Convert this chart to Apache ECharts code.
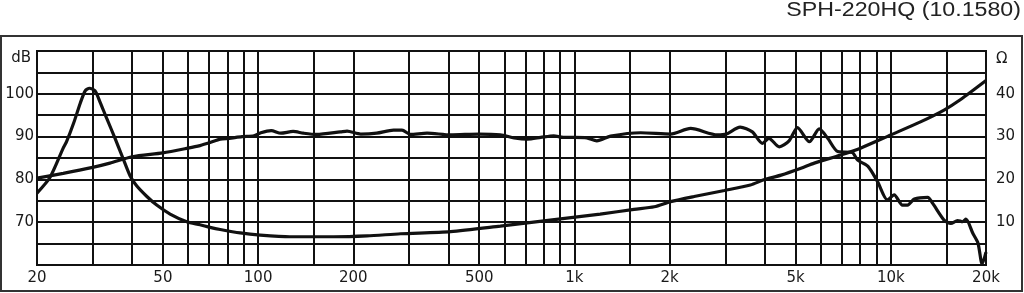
<!DOCTYPE html>
<html><head><meta charset="utf-8">
<script src="https://cdn.jsdelivr.net/npm/echarts@6/dist/echarts.min.js"></script>
<style>html,body{margin:0;padding:0;background:#fff}#c{width:1024px;height:293px}</style>
</head><body><div id="c"></div>
<script>
const titleText = 'SPH-220HQ (10.1580)';
// SPL curve (dB, left axis)
const splFreq = [20,24.2,30,34,40,50,60,65.5,70.5,75.9,81,89,97,102,110,118,129,139,153,182,191,211,237,268,285,303,342,406,500,583,645,710,782,860,922,1000,1094,1177,1300,1620,2013,2330,2830,3020,3340,3650,3930,4120,4440,4770,5070,5530,5940,6320,6800,7550,7860,8460,9080,9760,10250,10890,11300,11870,13080,13570,14740,15480,16260,16870,17290,18170,18870,19450,20000];
const splDb   = [80.3,81.4,82.8,83.8,85.3,86.2,87.3,87.9,88.6,89.4,89.6,90.0,90.2,90.9,91.4,90.8,91.2,90.8,90.5,91.1,91.3,90.6,90.8,91.5,91.5,90.5,90.8,90.4,90.6,90.4,89.7,89.4,89.8,90.2,89.8,89.8,89.7,89.0,90.1,90.9,90.6,91.9,90.4,90.6,92.2,91.1,88.4,89.6,87.6,89.0,92.1,88.8,91.8,89.6,86.5,86.3,84.5,83.1,79.5,75.2,76.4,74.0,74.0,75.4,75.8,74.4,70.5,69.7,70.4,70.1,70.7,67.4,65.1,60.2,63.0];
// Impedance curve (ohm, right axis)
const impFreq = [20,22,24.2,24.8,26.1,27.4,28.4,29.3,30.5,31.6,33.2,35.3,37.5,39.4,41.3,44.5,47.8,52.7,59.5,65.5,70.5,75.9,87.8,101.6,126,173,221,282,406,583,838,1206,1542,1788,2013,2390,2980,3600,3970,4500,5200,5730,6940,8020,10000,12460,14740,16580,20000];
const impOhm  = [16.8,20.5,27.3,28.8,33.1,37.8,40.7,41.3,40.7,38.2,34.3,29.6,24.7,20.8,18.5,16.0,14.0,11.9,10.1,9.4,8.8,8.3,7.5,7.0,6.6,6.6,6.8,7.3,7.8,9.1,10.5,11.9,13.0,13.6,14.8,16.0,17.4,18.7,19.9,21.0,22.6,23.8,25.7,27.3,30.4,33.5,36.2,38.6,43.1];
// axis ticks
const gridFreqs = [20,30,40,50,60,70,80,90,100,150,200,300,400,500,600,700,800,900,1000,1500,2000,3000,4000,5000,6000,7000,8000,9000,10000,15000,20000];
const freqLabels = [20,50,100,200,500,1000,2000,5000,10000,20000];
const dbLabels = [70,80,90,100];
const ohmLabels = [10,20,30,40];
const dbUnit = 'dB', ohmUnit = 'Ω';

const INK = '#111';
const TXT = '#1a1a1a';
const FONT = 'DejaVu Sans';
const fmtF = f => f >= 1000 ? (f/1000) + 'k' : String(f);

const chart = echarts.init(document.getElementById('c'), null, {renderer:'canvas'});
chart.setOption({
  animation: false,
  backgroundColor: '#fff',
  grid: {left: 37, right: 38, top: 51, bottom: 28, show: true, borderColor: INK, borderWidth: 2, backgroundColor: 'rgba(0,0,0,0)'},
  xAxis: {
    type: 'log', logBase: 10, min: 20, max: 20000,
    axisLine: {show: false}, axisTick: {show: false}, axisLabel: {show: false},
    splitLine: {show: false}
  },
  yAxis: [
    {type: 'value', min: 60, max: 110, interval: 5, position: 'left',
     axisLine: {show: false}, axisTick: {show: false},
     splitLine: {show: true, lineStyle: {color: INK, width: 2}},
     axisLabel: {margin: 3, fontSize: 15, fontFamily: FONT, color: TXT,
       formatter: v => dbLabels.includes(v) ? String(v) : ''}},
    {type: 'value', min: 0, max: 50, interval: 5, position: 'right',
     axisLine: {show: false}, axisTick: {show: false}, splitLine: {show: false},
     axisLabel: {margin: 10, fontSize: 15, fontFamily: FONT, color: TXT,
       formatter: v => ohmLabels.includes(v) ? String(v) : ''}}
  ],
  series: [
    {type: 'line', name: 'SPL', xAxisIndex: 0, yAxisIndex: 0, showSymbol: false, smooth: 0.25,
     lineStyle: {color: INK, width: 3.2}, z: 5, silent: true,
     data: splFreq.map((f, i) => [f, splDb[i]]),
     markLine: {
       silent: true, symbol: ['none', 'none'], animation: false,
       lineStyle: {type: 'solid', color: INK, width: 2},
       label: {position: 'start', distance: 6, fontSize: 15, fontFamily: FONT, color: TXT},
       emphasis: {disabled: true},
       data: gridFreqs.map(f => ({
         xAxis: f,
         label: freqLabels.includes(f) ? {show: true, formatter: fmtF(f)} : {show: false}
       }))
     }},
    {type: 'line', name: 'Impedance', xAxisIndex: 0, yAxisIndex: 1, showSymbol: false, smooth: 0.25,
     lineStyle: {color: INK, width: 3.2}, z: 5, silent: true,
     data: impFreq.map((f, i) => [f, impOhm[i]])}
  ],
  graphic: [
    {type: 'rect', silent: true, z: -10, shape: {x: 1, y: 36, width: 1021, height: 255},
     style: {fill: 'rgba(0,0,0,0)', stroke: '#333', lineWidth: 2}},
    {type: 'text', silent: true, x: 1021, y: 10, scaleX: 1.16,
     style: {text: titleText, font: '20px "Liberation Sans", Arial, sans-serif', fill: '#222',
             textAlign: 'right', textVerticalAlign: 'middle', align: 'right', verticalAlign: 'middle'}},
    {type: 'text', silent: true, x: 31, y: 58,
     style: {text: dbUnit, font: '15px "DejaVu Sans"', fill: TXT,
             textAlign: 'right', textVerticalAlign: 'middle', align: 'right', verticalAlign: 'middle'}},
    {type: 'text', silent: true, x: 996, y: 59,
     style: {text: ohmUnit, font: '15px "DejaVu Sans"', fill: TXT,
             textAlign: 'left', textVerticalAlign: 'middle', align: 'left', verticalAlign: 'middle'}}
  ]
});
</script>
</body></html>
